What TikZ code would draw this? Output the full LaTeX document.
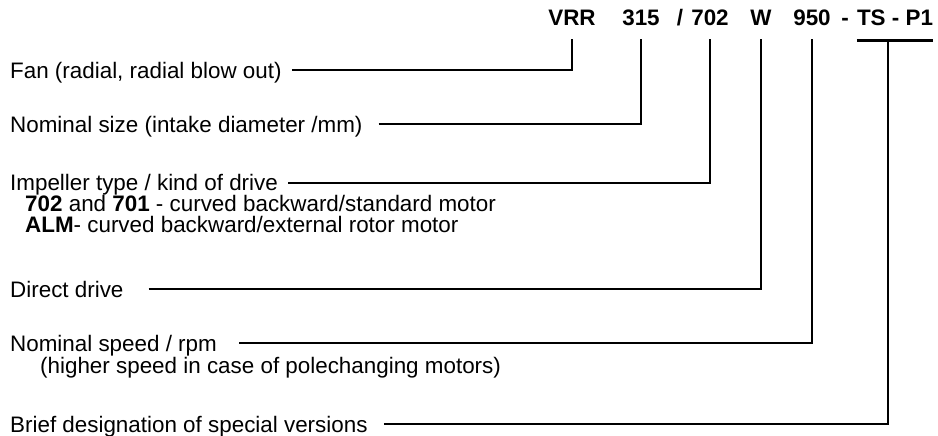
\documentclass[tikz,border=0pt]{standalone}
\usepackage{fontspec}
\setmainfont{Liberation Sans}
\usetikzlibrary{calc}

\begin{document}
\begin{tikzpicture}[x=1pt,y=-1pt,
  every node/.style={font=\fontsize{22.4}{24}\selectfont,inner sep=0pt},
  code/.style={anchor=base,font=\fontsize{22.4}{24}\selectfont\bfseries},
  label/.style={anchor=base west},
  lead/.style={line width=2.8pt}]
  \useasboundingbox (0,0) rectangle (938,436);
  % type code
  \node[code] (vrr) at (572,26) {VRR};
  \node[code] (size) at (641,26) {315};
  \node[code] (slash) at (680,26) {/};
  \node[code] (type) at (710,26) {702};
  \node[code] (drv) at (761,26) {W};
  \node[code] (speed) at (812,26) {950};
  \node[code] (dash) at (845,26) {-};
  \node[code] (special) at (895,26) {TS - P1};
  \coordinate (tsmid) at ([xshift=-7pt,yshift=-14pt]special.south);
  % explanations
  \node[label] (fan) at (10,78) {Fan (radial, radial blow out)};
  \node[label] (nsize) at (10,132) {Nominal size (intake diameter /mm)};
  \node[label] (imp) at (10,190) {Impeller type / kind of drive};
  \node[label] (imp1) at (25,211) {\textbf{702} and \textbf{701} - curved backward/standard motor};
  \node[label] (imp2) at (25,232) {\textbf{ALM}- curved backward/external rotor motor};
  \node[label] (direct) at (10,297) {Direct drive};
  \node[label] (nspeed) at (10,351) {Nominal speed / rpm};
  \node[label] (higher) at (40,373) {(higher speed in case of polechanging motors)};
  \node[label] (brief) at (10,432) {Brief designation of special versions};
  % leaders
  \draw[lead] ([shift={(10pt,8pt)}]fan.base east) -| ([yshift=-13pt]vrr.south);
  \draw[lead] ([shift={(16pt,8pt)}]nsize.base east) -| ([yshift=-13pt]size.south);
  \draw[lead] ([shift={(10pt,7pt)}]imp.base east) -| ([yshift=-13pt]type.south);
  \draw[lead] ([shift={(25pt,8pt)}]direct.base east) -| ([yshift=-13pt]drv.south);
  \draw[lead] ([shift={(22pt,8pt)}]nspeed.base east) -| ([yshift=-13pt]speed.south);
  \draw[lead] ([shift={(16pt,8pt)}]brief.base east) -| (tsmid);
  \draw[lead] ([yshift=-14pt]special.south west) -- ([yshift=-14pt]special.south east);
\end{tikzpicture}
\end{document}
